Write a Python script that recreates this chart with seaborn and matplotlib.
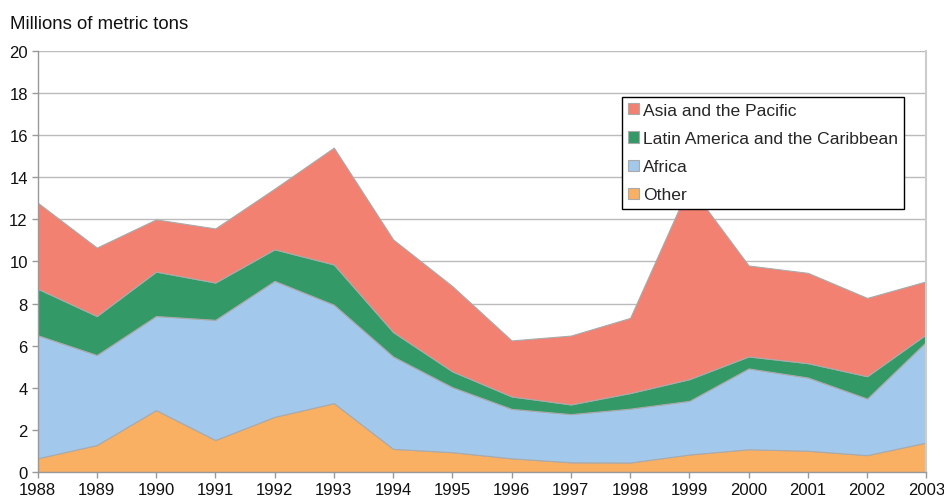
import matplotlib
matplotlib.use("Agg")
import matplotlib.pyplot as plt
import numpy as np
import pandas as pd
import seaborn as sns

# data (millions of metric tons)
years = list(range(1988, 2004))
other = [0.65, 1.28, 2.94, 1.52, 2.62, 3.27, 1.10, 0.94, 0.65, 0.46, 0.45, 0.83, 1.08, 1.01, 0.80, 1.40]
africa = [5.85, 4.28, 4.47, 5.71, 6.46, 4.68, 4.39, 3.09, 2.35, 2.29, 2.56, 2.55, 3.84, 3.48, 2.69, 4.80]
latin = [2.21, 1.85, 2.11, 1.77, 1.50, 1.91, 1.16, 0.75, 0.59, 0.46, 0.74, 1.03, 0.57, 0.68, 1.06, 0.35]
asia = [4.09, 3.25, 2.48, 2.57, 2.88, 5.55, 4.40, 4.05, 2.66, 3.27, 3.57, 9.19, 4.32, 4.29, 3.72, 2.51]

series = ['Other', 'Africa', 'Latin America and the Caribbean', 'Asia and the Pacific']
colors = {'Other': '#FAB062', 'Africa': '#A2C8EB',
          'Latin America and the Caribbean': '#339966', 'Asia and the Pacific': '#F28172'}

df = pd.DataFrame({'year': years, 'Other': other, 'Africa': africa,
                   'Latin America and the Caribbean': latin, 'Asia and the Pacific': asia})

sns.set_style('white')
plt.rcParams['font.family'] = ['Liberation Sans', 'DejaVu Sans']

fig = plt.figure(figsize=(9.45, 5.02), dpi=100)
ax = fig.add_axes([0.0397, 0.0578, 0.9406, 0.8386])

ax.stackplot(df['year'], *[df[s] for s in series], labels=series,
             colors=[colors[s] for s in series], edgecolor='#999999', linewidth=0.8, zorder=2)

ax.set_xlim(1988, 2003)
ax.set_ylim(0, 20)
ax.set_yticks(range(0, 21, 2))
ax.set_xticks(years)
ax.grid(axis='y', color='#BBBBBB', linewidth=1, zorder=0)
ax.set_axisbelow(True)

for side in ['left', 'bottom']:
    ax.spines[side].set_color('#999999')
    ax.spines[side].set_linewidth(1)
ax.spines['right'].set_color('#CCCCCC')
ax.spines['right'].set_linewidth(1.5)
ax.spines['top'].set_visible(False)

ax.tick_params(axis='both', labelsize=12, colors='#999999', labelcolor='#111111',
               length=4, width=1, direction='out', left=True, bottom=True, pad=3)

fig.text(0.011, 0.952, 'Millions of metric tons', fontsize=13.4, color='#111111', va='center')

handles, labels = ax.get_legend_handles_labels()
for h in handles:
    h.set_edgecolor('#AAAAAA')
leg = ax.legend(handles[::-1], labels[::-1], loc='upper right', bbox_to_anchor=(0.975, 0.891),
                borderaxespad=0, fontsize=12.6, frameon=True, fancybox=False, framealpha=1,
                edgecolor='black', handlelength=0.6, handleheight=0.6,
                handletextpad=0.25, labelspacing=0.75, borderpad=0.35)
leg.get_frame().set_linewidth(1)
leg.set_zorder(5)

fig.savefig('out.png', dpi=100)
